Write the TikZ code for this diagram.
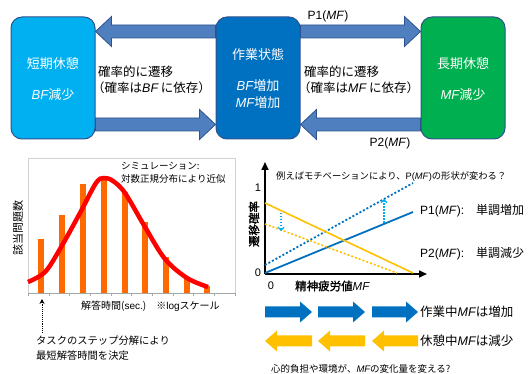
\documentclass[tikz,border=0pt]{standalone}
\usepackage{fontspec}
\setmainfont{Noto Sans CJK JP}
\newfontfamily\lat{Liberation Sans}
\newfontfamily\jpb[FakeBold=1.5]{Noto Sans CJK JP}
\usetikzlibrary{calc,arrows.meta}
\pgfdeclarelayer{bg}
\pgfsetlayers{bg,main}
\newcommand\MFi{{\lat\itshape MF}}
\newcommand\BFi{{\lat\itshape BF}}
\newcommand\fs[1]{\fontsize{#1}{#1}\selectfont}
\definecolor{lbox}{HTML}{00B0F0}
\definecolor{cbox}{HTML}{0070C0}
\definecolor{rbox}{HTML}{00B050}
\definecolor{bord}{HTML}{2F528F}
\definecolor{arrfill}{HTML}{4F7FBE}
\definecolor{barc}{HTML}{FF6A00}
\definecolor{orgc}{HTML}{FFC000}
\definecolor{ltb}{HTML}{00B0F0}
% #1 style, #2 start, #3 tip, #4 half shaft, #5 half head, #6 head length
\newcommand\blockarrow[6]{%
  \path[#1] let \p1=#2, \p2=#3, \n1={sign(\x2-\x1)} in
    ({\x1},{\y1+#4}) -- ({\x2-(\n1)*#6},{\y1+#4}) -- ({\x2-(\n1)*#6},{\y1+#5})
    -- ({\x2},{\y1}) -- ({\x2-(\n1)*#6},{\y1-#5}) -- ({\x2-(\n1)*#6},{\y1-#4})
    -- ({\x1},{\y1-#4}) -- cycle;}
\tikzset{
  statebox/.style={draw=bord, line width=1pt, rounded corners=11pt,
    minimum width=84pt, minimum height=122pt, inner sep=0pt},
  wtext/.style={text=white, font=\fs{13}, inner sep=0pt},
  barr/.style={fill=arrfill, draw=bord, line width=0.8pt},
  lbl/.style={inner sep=0pt, anchor=west},
  axisln/.style={line width=1.6pt, -{Triangle[length=8pt,width=7pt]}},
}
\begin{document}
\begin{tikzpicture}[x=1pt,y=-1pt, font=\fs{12}]
\useasboundingbox (0,0) rectangle (528,374);
% ---- state boxes
\node[statebox, fill=lbox] (sb) at (53,78) {};
\node[statebox, fill=cbox] (wk) at (258,78) {};
\node[statebox, fill=rbox] (lb) at (463,78) {};
\begin{pgfonlayer}{bg}
\blockarrow{barr}{([yshift=-15pt]wk.north west)}{([yshift=-15pt]sb.north east)}{6.5pt}{15pt}{16pt}
\blockarrow{barr}{([yshift=15pt]sb.south east)}{([yshift=15pt]wk.south west)}{6.5pt}{15pt}{16pt}
\blockarrow{barr}{([yshift=-15pt]wk.north east)}{([yshift=-15pt]lb.north west)}{6.5pt}{15pt}{16pt}
\blockarrow{barr}{([yshift=15pt]lb.south west)}{([yshift=15pt]wk.south east)}{6.5pt}{15pt}{16pt}
\end{pgfonlayer}
\node[wtext] (sbt1) at (53,64) {短期休憩};
\node[wtext] (sbt2) at (53,95) {\BFi 減少};
\node[wtext] (wkt1) at (258,55) {作業状態};
\node[wtext] (wkt2) at (258,86) {\BFi 増加};
\node[wtext] (wkt3) at (258,103) {\MFi 増加};
\node[wtext] (lbt1) at (463,64) {長期休憩};
\node[wtext] (lbt2) at (463,95) {\MFi 減少};
\node[lbl, font=\fs{12.5}] (tl1) at (98,72) {確率的に遷移};
\node[lbl, font=\fs{12.5}] (tl2) at (92,88) {（確率は\BFi\ に依存）};
\node[lbl, font=\fs{12.5}] (tr1) at (304,72) {確率的に遷移};
\node[lbl, font=\fs{12.5}] (tr2) at (298,88) {（確率は\MFi\ に依存）};
\node[font=\lat\fs{12}, inner sep=0pt] (p1) at (328,16) {P1(\textit{MF})};
\node[font=\lat\fs{12}, inner sep=0pt] (p2) at (390,143) {P2(\textit{MF})};
% ---- histogram
\draw[gray!35] (28,293) -- (28,158) -- (235,158) -- (235,293);
\foreach \bx/\bt in {41/239, 62/215, 83/184, 104/179, 125/192, 145/222, 166/257, 187/279, 207/286}
  \fill[barc] (\bx-3,293) rectangle (\bx+3,\bt);
\draw[gray!70] (28,293) -- (235,293);
\foreach \k in {0,...,10} \draw[gray!70] ({28+20.7*\k},293) -- ++(0,3);
\draw[red, line width=4.5pt] plot[smooth, tension=0.55] coordinates
  {(28,282) (45,272) (60,249) (80,213) (96,183) (104,178) (113,181) (125,193) (145,227) (165,259) (187,278) (208,287)};
\node[lbl, font=\fs{9.5}] (sim1) at (121,166) {シミュレーション:};
\node[lbl, font=\fs{9.5}] (sim2) at (121,179) {対数正規分布により近似};
\node[inner sep=0pt, rotate=90, font=\fs{11}] (ylab) at (18,228) {該当問題数};
\node[lbl, font=\fs{10}] (xlab) at (81,306) {解答時間({\lat sec.})　※{\lat log}スケール};
\coordinate (dA) at (42,333);
\coordinate (dB) at (42,299);
\draw[densely dotted, line width=0.9pt, -{Stealth[length=5pt,width=5pt]}] (dA) -- (dB);
\node[lbl, font=\fs{10.3}] (task1) at (36,341) {タスクのステップ分解により};
\node[lbl, font=\fs{10.3}] (task2) at (36,356) {最短解答時間を決定};
% ---- transition probability chart
\coordinate (O) at (265,274);
\coordinate (Ytop) at (265,162);
\coordinate (Xend) at (427,274);
\draw[axisln] (O) -- (Ytop);
\draw[axisln] (O) -- (Xend);
\draw[cbox, line width=1.8pt] (265,273) -- (413,212);
\draw[cbox, line width=1.8pt, dash pattern=on 2pt off 2pt] (265,265) -- (413,183);
\draw[orgc, line width=1.6pt] (265,203) -- (413,273);
\draw[orgc, line width=1.6pt, dash pattern=on 2pt off 2pt] (265,224) -- (397,273);
\draw[ltb, line width=1.1pt, dash pattern=on 1.5pt off 1.5pt, -{Straight Barb[length=3pt,width=6pt]}] (281,213) -- (281,231);
\draw[ltb, line width=1.1pt, dash pattern=on 1.5pt off 1.5pt, -{Straight Barb[length=3pt,width=6pt]}] (384,223) -- (384,199);
\node[font=\lat\fs{11}, inner sep=0pt] (one) at (258,188) {1};
\node[font=\lat\fs{11}, inner sep=0pt] (zero) at (258,273) {0};
\node[font=\lat\fs{11}, inner sep=0pt] (zerox) at (271,286) {0};
\node[lbl, font=\jpb\fs{11.5}] (mfl) at (295,286) {精神疲労値{\lat\itshape MF}};
\node[inner sep=0pt, rotate=90, font=\jpb\fs{11.5}] (ptl) at (254,224) {遷移確率};
\node[lbl, font=\fs{9.3}] (eg) at (276,177) {例えばモチベーションにより、{\lat P(\textit{MF})}の形状が変わる？};
\node[lbl, font=\fs{12}] (p1l) at (420,211) {{\lat P1(\textit{MF}):}　単調増加};
\node[lbl, font=\fs{12}] (p2l) at (420,254) {{\lat P2(\textit{MF}):}　単調減少};
% ---- bottom arrows
\foreach \a/\b in {265/312, 318/365, 372/418} {
  \blockarrow{fill=cbox}{(\a,312)}{(\b,312)}{5.5pt}{10.5pt}{12pt}
  \blockarrow{fill=orgc}{(\b,341)}{(\a,341)}{5.5pt}{10.5pt}{12pt}
}
\node[lbl, font=\fs{12.5}] (wkinc) at (420,312) {作業中\MFi は増加};
\node[lbl, font=\fs{12.5}] (rsdec) at (420,341) {休憩中\MFi は減少};
\node[lbl, font=\fs{9.5}] (note) at (271,369) {心的負担や環境が、\MFi の変化量を変える?};
\end{tikzpicture}
\end{document}
